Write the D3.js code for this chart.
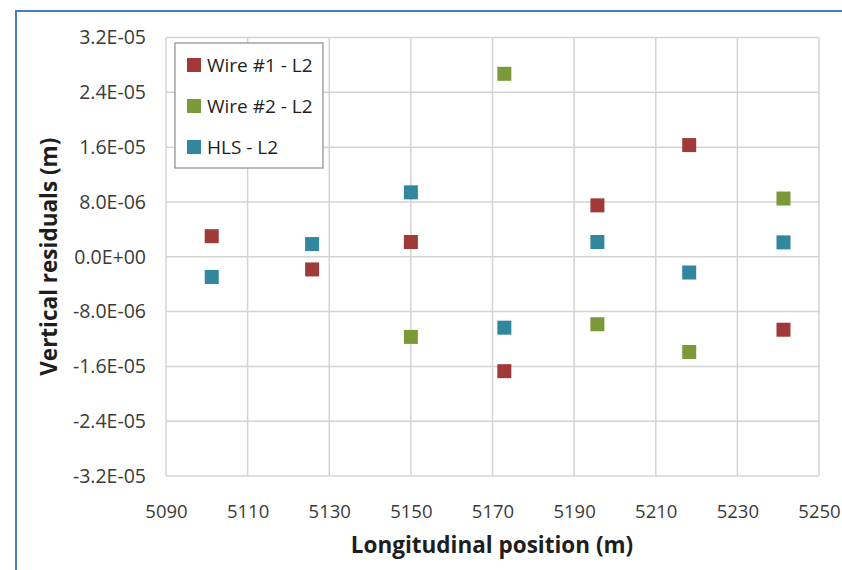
<!DOCTYPE html>
<html>
<head>
<meta charset="utf-8">
<script src="https://cdn.jsdelivr.net/npm/d3@7"></script>
<style>
  body { margin: 0; background: #fff; }
</style>
</head>
<body>
<div id="chart"></div>
<script>
'use strict';

// data
const positions_x = [5101.2, 5125.8, 5150.0, 5172.9, 5195.7, 5218.2, 5241.3]
const wire1_y = [3.0e-6, -1.85e-6, 2.15e-6, -1.67e-5, 7.5e-6, 1.63e-5, -1.065e-5]
const wire2_x = [5150.0, 5172.9, 5195.7, 5218.2, 5241.3]
const wire2_y = [-1.17e-5, 2.67e-5, -9.85e-6, -1.39e-5, 8.5e-6]
const hls_y = [-2.95e-6, 1.85e-6, 9.4e-6, -1.035e-5, 2.15e-6, -2.3e-6, 2.1e-6]
const series_names = ['Wire #1 - L2', 'Wire #2 - L2', 'HLS - L2']
const series_colors = ['#9f3a38', '#7a9a3a', '#32869d']
const x_ticks = [5090, 5110, 5130, 5150, 5170, 5190, 5210, 5230, 5250]
const y_ticks = [-3.2e-5, -2.4e-5, -1.6e-5, -8e-6, 0, 8e-6, 1.6e-5, 2.4e-5, 3.2e-5]

const series = [
  { name: series_names[0], color: series_colors[0], x: positions_x, y: wire1_y },
  { name: series_names[1], color: series_colors[1], x: wire2_x, y: wire2_y },
  { name: series_names[2], color: series_colors[2], x: positions_x, y: hls_y }
]

const dimensions = {
  width: 842,
  height: 570,
  margin: { top: 37.5, bottom: 94, left: 166, right: 23 }
}
dimensions.ctrWidth = dimensions.width - dimensions.margin.left - dimensions.margin.right
dimensions.ctrHeight = dimensions.height - dimensions.margin.top - dimensions.margin.bottom

const font = '"Open Sans", Lato, sans-serif'

const svg = d3.select('#chart')
  .append('svg')
  .attr('width', dimensions.width)
  .attr('height', dimensions.height)

// blue frame of the pasted picture
svg.append('path')
  .attr('d', `M16,${dimensions.height} V11 H${dimensions.width}`)
  .style('fill', 'none')
  .style('stroke', '#4a7ebb')
  .style('stroke-width', 2)

const chart_g = svg.append('g')
  .attr('transform', `translate(${dimensions.margin.left}, ${dimensions.margin.top})`)

const xScale = d3.scaleLinear()
  .domain([5090, 5250])
  .range([0, dimensions.ctrWidth])

const yScale = d3.scaleLinear()
  .domain([-3.2e-5, 3.2e-5])
  .range([dimensions.ctrHeight, 0])

// gridlines
chart_g.append('g')
  .selectAll('line')
  .data(x_ticks)
  .join('line')
  .attr('x1', d => xScale(d))
  .attr('x2', d => xScale(d))
  .attr('y1', 0)
  .attr('y2', dimensions.ctrHeight)
  .style('stroke', '#d4d4d4')
  .style('stroke-width', 1.5)

chart_g.append('g')
  .selectAll('line')
  .data(y_ticks)
  .join('line')
  .attr('x1', 0)
  .attr('x2', dimensions.ctrWidth)
  .attr('y1', d => yScale(d))
  .attr('y2', d => yScale(d))
  .style('stroke', '#d4d4d4')
  .style('stroke-width', 1.5)

// axes (labels only, Excel style)
const yFormat = (d) => {
  if (d === 0) return '0.0E+00'
  const s = d.toExponential(1).toUpperCase()
  const parts = s.split('E')
  const exp = parseInt(parts[1], 10)
  const sign = exp < 0 ? '-' : '+'
  return parts[0] + 'E' + sign + String(Math.abs(exp)).padStart(2, '0')
}

const xAxis = d3.axisBottom(xScale)
  .tickValues(x_ticks)
  .tickFormat(d3.format('d'))
  .tickSize(0)
  .tickPadding(29)

const xAxisGroup = chart_g.append('g')
  .attr('transform', `translate(0, ${dimensions.ctrHeight})`)
  .call(xAxis)
xAxisGroup.select('.domain').remove()
xAxisGroup.selectAll('text')
  .style('font-family', font)
  .style('font-size', '18.5px')
  .style('fill', '#3a3a3a')

const yAxis = d3.axisLeft(yScale)
  .tickValues(y_ticks)
  .tickFormat(yFormat)
  .tickSize(0)
  .tickPadding(20)

const yAxisGroup = chart_g.append('g')
  .call(yAxis)
yAxisGroup.select('.domain').remove()
yAxisGroup.selectAll('text')
  .style('font-family', font)
  .style('font-size', '19.5px')
  .style('fill', '#3a3a3a')

// axis titles
svg.append('text')
  .attr('x', 492)
  .attr('y', 553)
  .style('text-anchor', 'middle')
  .style('font-family', font)
  .style('font-weight', 'bold')
  .style('font-size', '22.5px')
  .style('fill', '#1e1e1e')
  .text('Longitudinal position (m)')

svg.append('text')
  .attr('transform', `translate(57, ${dimensions.margin.top + dimensions.ctrHeight / 2}) rotate(-90)`)
  .style('text-anchor', 'middle')
  .style('font-family', font)
  .style('font-weight', 'bold')
  .style('font-size', '22.5px')
  .style('fill', '#1e1e1e')
  .text('Vertical residuals (m)')

// markers
const marker = 14
chart_g.append('g')
  .selectAll('g')
  .data(series)
  .join('g')
  .style('fill', d => d.color)
  .selectAll('rect')
  .data(d => d.x.map((xv, i) => ({ x: xv, y: d.y[i] })))
  .join('rect')
  .attr('x', d => xScale(d.x) - marker / 2)
  .attr('y', d => yScale(d.y) - marker / 2)
  .attr('width', marker)
  .attr('height', marker)

// legend
const legend_g = svg.append('g')
  .attr('transform', 'translate(175, 43)')

legend_g.append('rect')
  .attr('width', 148)
  .attr('height', 125)
  .style('fill', '#fff')
  .style('stroke', '#8c8c8c')
  .style('stroke-width', 1.2)

const legendItems = legend_g.selectAll('g')
  .data(series)
  .join('g')
  .attr('transform', (d, i) => `translate(0, ${22 + i * 41})`)

legendItems.append('rect')
  .attr('x', 12)
  .attr('y', -7)
  .attr('width', marker)
  .attr('height', marker)
  .style('fill', d => d.color)

legendItems.append('text')
  .attr('x', 32)
  .attr('dy', '0.35em')
  .style('font-family', font)
  .style('font-size', '19px')
  .style('fill', '#1e1e1e')
  .text(d => d.name)
</script>
</body>
</html>
